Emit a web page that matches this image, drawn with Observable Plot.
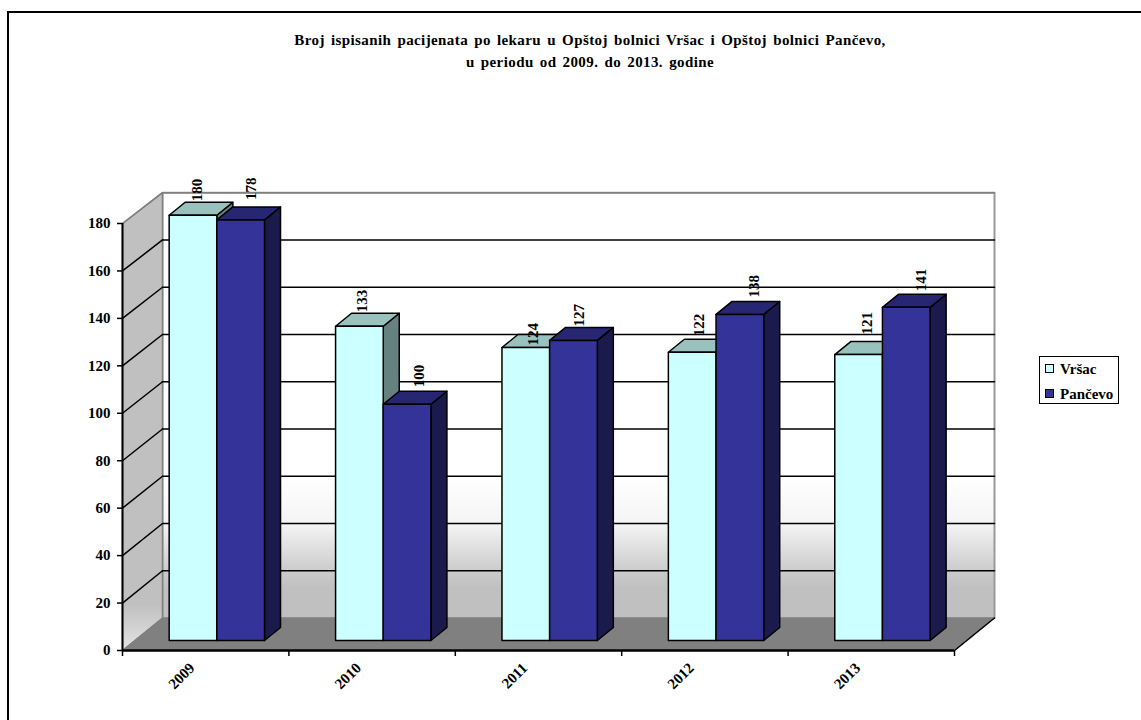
<!DOCTYPE html>
<html>
<head>
<meta charset="utf-8">
<script src="https://cdn.jsdelivr.net/npm/d3@7"></script>
<script src="https://cdn.jsdelivr.net/npm/@observablehq/plot@0.6"></script>
<style>
  html, body { margin: 0; padding: 0; background: #fff; }
  body { width: 1141px; height: 720px; position: relative; overflow: hidden;
         font-family: "Liberation Serif", serif; font-weight: bold; color: #000; }
  #frame { position: absolute; left: 7px; top: 11px; width: 1134px; height: 720px;
           border-left: 2px solid #000; border-top: 2px solid #000; box-sizing: border-box; }
  #title { position: absolute; left: 190px; width: 800px; top: 29px; text-align: center;
           font-size: 15px; line-height: 22px; letter-spacing: 0.4px; word-spacing: 2px; white-space: pre; }
  #legend { position: absolute; left: 1039px; top: 356px; width: 80px; height: 48px; box-sizing: border-box;
            border: 1.5px solid #000; background: #fff; font-size: 15px; }
  #legend div { position: absolute; left: 5px; white-space: nowrap; line-height: 14px; }
  #legend i { display: inline-block; width: 7px; height: 7px; border: 1px solid #000; margin-right: 6px; vertical-align: 1px; }
  #plot { position: absolute; left: 0; top: 0; }
</style>
</head>
<body>
<div id="frame"></div>
<div id="plot"></div>
<div id="title"></div>
<div id="legend"></div>
<script>
const titleLines = ["Broj ispisanih pacijenata po lekaru u Opštoj bolnici Vršac i Opštoj bolnici Pančevo,", "u periodu od 2009. do 2013. godine"];
const years = ["2009", "2010", "2011", "2012", "2013"];
const seriesNames = ["Vršac", "Pančevo"];
const vrsac = [180, 133, 124, 122, 121];
const pancevo = [178, 100, 127, 138, 141];
const yTicks = [0, 20, 40, 60, 80, 100, 120, 140, 160, 180];

const palette = {
  "Vršac": {front: "#CCFFFF", top: "#99C2BF", side: "#668280"},
  "Pančevo": {front: "#333399", top: "#262673", side: "#1A1A4D"}
};

// Hand placement of the value labels, as nudges from their bar, per series then year.
const labelDx = [[-4, -5, -1, -1, 1], [3, 4.5, -2, 6, 7]];
const labelDy = [[-1, -1, 11, -3, -7], [-7, -4, -1, -4, -3]];

// Oblique projection of the 3D box: depth d runs 0 (front axis) to 1 (back wall).
const depthX = 0.2404, depthY = 13.7, shrink = 0.996;
const project = (u, v, d) => ({x: u + d * depthX, y: v * (d > 0 ? shrink : 1) + d * depthY});

const barDepthStart = 0.3077, barDepth = 0.4, barOffset = 0.2065, barWidth = 0.2865;

// Painter's order: per category, first series then second; side, top, front.
const faces = [];
const addFace = (key, fill, corners) => {
  [...corners, corners[0]].forEach(([u, v, d]) => faces.push({key, fill, ...project(u, v, d)}));
};
years.forEach((year, i) => {
  [vrsac, pancevo].forEach((values, s) => {
    const c = palette[seriesNames[s]], v = values[i];
    const a = i + barOffset + s * barWidth, b = a + barWidth;
    const d0 = barDepthStart, d1 = barDepthStart + barDepth;
    addFace(`${year}-${s}-side`, c.side, [[b, 0, d0], [b, 0, d1], [b, v, d1], [b, v, d0]]);
    addFace(`${year}-${s}-top`, c.top, [[a, v, d0], [a, v, d1], [b, v, d1], [b, v, d0]]);
    addFace(`${year}-${s}-front`, c.front, [[a, 0, d0], [b, 0, d0], [b, v, d0], [a, v, d0]]);
  });
});

const poly = corners => [...corners, corners[0]].map(([u, v, d]) => project(u, v, d));
const n = years.length, yMax = 180;
const backWall = poly([[0, 0, 1], [n, 0, 1], [n, yMax, 1], [0, yMax, 1]]);
const leftWall = poly([[0, 0, 0], [0, 0, 1], [0, yMax, 1], [0, yMax, 0]]);
const floor = poly([[0, 0, 0], [n, 0, 0], [n, 0, 1], [0, 0, 1]]);
const floorEdge = [project(n, 0, 0), project(n, 0, 1)];
const gridBack = yTicks.slice(1).flatMap(t => [project(0, t, 1), project(n, t, 1)].map(p => ({...p, t})));
const gridSide = yTicks.slice(1).flatMap(t => [project(0, t, 0), project(0, t, 1)].map(p => ({...p, t})));

const labels = [];
[vrsac, pancevo].forEach((values, s) => values.forEach((v, i) => {
  const u = i + barOffset + (s + 0.5) * barWidth;
  const p = project(u, v, barDepthStart + barDepth / 2);
  labels.push({...p, v, s, i, top: project(u, v, barDepthStart + barDepth).y});
}));

const gradients = () => {
  const defs = d3.create("svg:defs");
  const add = (id, stops) => {
    const g = defs.append("linearGradient").attr("id", id).attr("x1", 0).attr("x2", 0).attr("y1", 0).attr("y2", 1);
    stops.forEach(([o, c]) => g.append("stop").attr("offset", o).attr("stop-color", c));
  };
  add("backGrad", [[0, "#fff"], [0.67, "#fff"], [0.78, "#f4f4f4"], [0.894, "#cacaca"], [0.93, "#c0c0c0"], [1, "#c0c0c0"]]);
  add("sideGrad", [[0, "#c0c0c0"], [0.9, "#c0c0c0"], [1, "#e4e4e4"]]);
  return defs.node();
};

const font = {fontFamily: "Liberation Serif", fontWeight: "bold", fontSize: 15, fill: "#000"};

const chart = Plot.plot({
  width: 1141, height: 720,
  marginLeft: 122, marginRight: 187, marginTop: 223, marginBottom: 70,
  style: {background: "transparent", overflow: "visible"},
  x: {domain: [0, n]},
  y: {domain: [0, yMax]},
  color: {type: "identity"},
  marks: [
    gradients,
    Plot.line(backWall, {x: "x", y: "y", fill: "url(#backGrad)", stroke: "#999", strokeWidth: 2}),
    Plot.line(leftWall, {x: "x", y: "y", fill: "url(#sideGrad)", stroke: "#808080", strokeWidth: 1.5}),
    Plot.line(floor, {x: "x", y: "y", fill: "#808080", stroke: "#808080", strokeWidth: 1}),
    Plot.line(floorEdge, {x: "x", y: "y", stroke: "#000", strokeWidth: 1.5}),
    Plot.line(gridBack, {x: "x", y: "y", z: "t", stroke: d => d.t === yMax ? "#808080" : "#000", strokeWidth: 1.5}),
    Plot.line(gridSide, {x: "x", y: "y", z: "t", stroke: d => d.t === yMax ? "#808080" : "#000", strokeWidth: 1.5}),
    Plot.ruleX([0], {y1: 0, y2: yMax, stroke: "#000", strokeWidth: 2}),
    Plot.ruleY([0], {x1: 0, x2: n, stroke: "#000", strokeWidth: 2.5}),
    Plot.axisY({ticks: yTicks, tickSize: 5, tickPadding: 7, strokeWidth: 1.5, stroke: "#000", label: null, ...font}),
    Plot.axisX({ticks: d3.range(n + 1), tickSize: 6, tickFormat: () => "", strokeWidth: 1.5, stroke: "#000", label: null}),
    Plot.line(faces, {x: "x", y: "y", z: "key", fill: "fill", stroke: "#000", strokeWidth: 1.5, strokeLinejoin: "round"}),
    Plot.text(years, {x: (d, i) => i + 0.5, y: 0, text: d => d, rotate: -45, textAnchor: "end", lineAnchor: "middle", dx: -13.5, dy: 15, ...font}),
    ...labels.map(d => Plot.text([d], {x: "x", y: "top", text: e => String(e.v), rotate: -90, textAnchor: "start", lineAnchor: "middle",
      dx: labelDx[d.s][d.i], dy: labelDy[d.s][d.i], ...font}))
  ]
});
document.getElementById("plot").append(chart);

document.getElementById("title").textContent = titleLines.join("\n");
const legend = d3.select("#legend");
seriesNames.forEach((name, s) => {
  const row = legend.append("div").style("top", `${5 + s * 24.5}px`);
  row.append("i").style("background", palette[name].front);
  row.append("span").text(name);
});
</script>
</body>
</html>
